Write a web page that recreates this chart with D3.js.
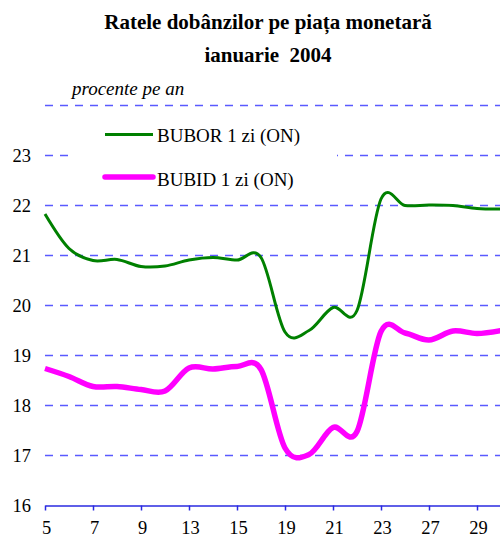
<!DOCTYPE html>
<html>
<head>
<meta charset="utf-8">
<script src="https://cdn.jsdelivr.net/npm/d3@7"></script>
<style>
  html, body { margin: 0; padding: 0; background: #fff; }
  svg { display: block; }
</style>
</head>
<body>
<svg id="chart" width="500" height="538"></svg>
<script>
// ---- data ----
const days = [5, 6, 7, 8, 9, 12, 13, 14, 15, 16, 19, 20, 21, 22, 23, 26, 27, 28, 29, 30];
const bubor = [21.83, 21.14, 20.90, 20.92, 20.78, 20.79, 20.91, 20.96, 20.91, 20.96,
               19.47, 19.50, 19.96, 19.90, 22.13, 22.00, 22.01, 22.00, 21.94, 21.93];
const bubid = [18.74, 18.58, 18.38, 18.38, 18.32, 18.29, 18.75, 18.73, 18.78, 18.72,
               17.15, 17.02, 17.56, 17.48, 19.48, 19.45, 19.31, 19.49, 19.44, 19.50];
const xTickLabels = [5, 7, 9, 13, 15, 19, 21, 23, 27, 29];
const yTickLabels = [16, 17, 18, 19, 20, 21, 22, 23];
const gridValues = [17, 18, 19, 20, 21, 22, 23, 24];
const seriesNames = ["BUBOR 1 zi (ON)", "BUBID 1 zi (ON)"];
const titleLines = ["Ratele dobânzilor pe piața monetară", "ianuarie  2004"];
const unitLabel = "procente pe an";

// ---- layout ----
const FONT = "'Liberation Serif', 'Times New Roman', Times, serif";
const svg = d3.select("#chart");
const x = d3.scalePoint().domain(days).range([45, 45 + 19 * 24]);
const y = d3.scaleLinear().domain([16, 24]).range([505.5, 105.5]);
const gridColor = "#5a5aff";
const axisColor = "#2a2ae0";

function txt(sel) {
  return sel.style("font-family", FONT).attr("fill", "#000");
}

// title
txt(svg.append("text")).attr("x", 268).attr("y", 29).attr("text-anchor", "middle")
  .style("font-size", "21px").style("font-weight", "bold").text(titleLines[0]);
txt(svg.append("text")).attr("x", 268).attr("y", 62).attr("text-anchor", "middle")
  .style("font-size", "21px").style("font-weight", "bold").style("white-space", "pre")
  .text(titleLines[1]);

// unit label
txt(svg.append("text")).attr("x", 72).attr("y", 95)
  .style("font-size", "19px").style("font-style", "italic").text(unitLabel);

// gridlines
svg.append("g").selectAll("line").data(gridValues).join("line")
  .attr("x1", 45).attr("x2", 500)
  .attr("y1", d => y(d)).attr("y2", d => y(d))
  .attr("stroke", gridColor).attr("stroke-width", 1.4)
  .attr("stroke-dasharray", "8,7");

// y labels
txt(svg.append("g").selectAll("text").data(yTickLabels).join("text"))
  .attr("x", 31).attr("y", d => y(d) + 6.5)
  .attr("text-anchor", "end").style("font-size", "18.5px").text(d => d);

// legend
const legend = svg.append("g");
legend.append("rect").attr("x", 70).attr("y", 112).attr("width", 267).attr("height", 84)
  .attr("fill", "#fff");
legend.append("line").attr("x1", 105).attr("x2", 153).attr("y1", 134.5).attr("y2", 134.5)
  .attr("stroke", "#008000").attr("stroke-width", 3);
txt(legend.append("text")).attr("x", 157).attr("y", 142).style("font-size", "19px").text(seriesNames[0]);
legend.append("line").attr("x1", 105).attr("x2", 153).attr("y1", 177).attr("y2", 177)
  .attr("stroke", "#ff00ff").attr("stroke-width", 5.5).attr("stroke-linecap", "round");
txt(legend.append("text")).attr("x", 157).attr("y", 186).style("font-size", "19px").text(seriesNames[1]);

// lines
const lineGen = vals => d3.line()
  .x((d, i) => x(days[i]))
  .y(d => y(d))
  .curve(d3.curveCardinal.tension(0))(vals);

svg.append("path").attr("d", lineGen(bubor))
  .attr("fill", "none").attr("stroke", "#008000").attr("stroke-width", 3);
svg.append("path").attr("d", lineGen(bubid))
  .attr("fill", "none").attr("stroke", "#ff00ff").attr("stroke-width", 5.5);

// x axis
const xAxis = d3.axisBottom(x).tickValues(xTickLabels).tickSize(5).tickSizeOuter(0);
const gx = svg.append("g").attr("transform", "translate(0,505.5)").call(xAxis)
  .attr("font-family", null).attr("font-size", null);
gx.select(".domain").attr("stroke", axisColor).attr("stroke-width", 1.5);
gx.selectAll(".tick line").attr("stroke", axisColor).attr("stroke-width", 1.5);
txt(gx.selectAll(".tick text"))
  .attr("dy", 0).attr("y", 28).attr("dx", 1)
  .style("font-size", "18.5px");
</script>
</body>
</html>
